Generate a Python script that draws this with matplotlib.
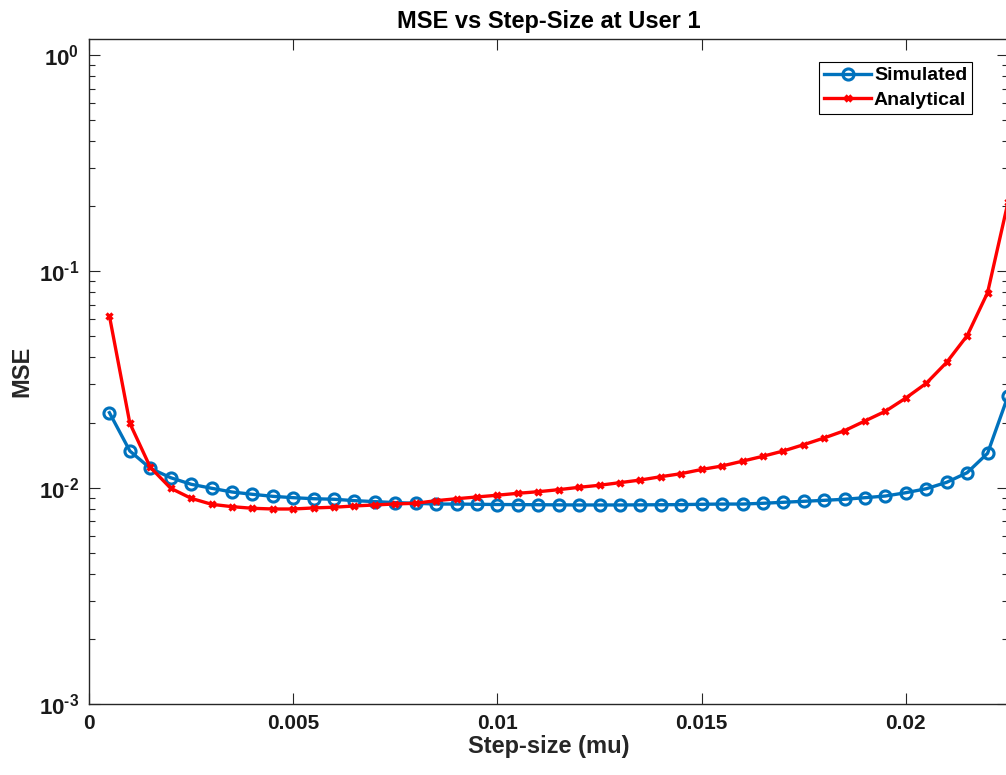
import numpy as np
import matplotlib
matplotlib.use("Agg")
import matplotlib.pyplot as plt
from matplotlib.ticker import FixedLocator, LogLocator, NullFormatter

plt.rcParams['font.family'] = ['Liberation Sans', 'DejaVu Sans']
plt.rcParams['mathtext.fontset'] = 'custom'
plt.rcParams['mathtext.rm'] = 'Liberation Sans:bold'
plt.rcParams['mathtext.bf'] = 'Liberation Sans:bold'
plt.rcParams['mathtext.it'] = 'Liberation Sans:bold'

# ---- data ----
mu = [0.0005, 0.001, 0.0015, 0.002, 0.0025, 0.003, 0.0035, 0.004, 0.0045, 0.005,
      0.0055, 0.006, 0.0065, 0.007, 0.0075, 0.008, 0.0085, 0.009, 0.0095, 0.010,
      0.0105, 0.011, 0.0115, 0.012, 0.0125, 0.013, 0.0135, 0.014, 0.0145, 0.015,
      0.0155, 0.016, 0.0165, 0.017, 0.0175, 0.018, 0.0185, 0.019, 0.0195, 0.020,
      0.0205, 0.021, 0.0215, 0.022, 0.0225]

mse_simulated = [0.02222, 0.01478, 0.01229, 0.01112, 0.01037, 0.00994, 0.00955, 0.00932, 0.00912, 0.00899,
                 0.00889, 0.00884, 0.00871, 0.00862, 0.00853, 0.00847, 0.00840, 0.00840, 0.00838, 0.00836,
                 0.00835, 0.00834, 0.00833, 0.00832, 0.00832, 0.00832, 0.00833, 0.00834, 0.00835, 0.00838,
                 0.00840, 0.00840, 0.00847, 0.00856, 0.00865, 0.00874, 0.00884, 0.00899, 0.00915, 0.00948,
                 0.00989, 0.01059, 0.01173, 0.01442, 0.02654]

mse_analytical = [0.0622, 0.01985, 0.01243, 0.00994, 0.00893, 0.00838, 0.00817, 0.00803, 0.00797, 0.00797,
                  0.00806, 0.00812, 0.00823, 0.00832, 0.00841, 0.00847, 0.00871, 0.00889, 0.00906, 0.00923,
                  0.00942, 0.00958, 0.00979, 0.01004, 0.01026, 0.01055, 0.01085, 0.01124, 0.01161, 0.01214,
                  0.01260, 0.01326, 0.01397, 0.01478, 0.01581, 0.01698, 0.01835, 0.02035, 0.02256, 0.02598,
                  0.03039, 0.03799, 0.05043, 0.07970, 0.2086]

x_ticks = [0, 0.005, 0.01, 0.015, 0.02]
x_tick_labels = ['0', '0.005', '0.01', '0.015', '0.02']
y_ticks = [1e-3, 1e-2, 1e-1, 1e0]
y_tick_labels = [r'$\mathbf{10^{\text{-}3}}$', r'$\mathbf{10^{\text{-}2}}$',
                 r'$\mathbf{10^{\text{-}1}}$', r'$\mathbf{10^{0}}$']

W, H = 1006, 775
fig = plt.figure(figsize=(W / 100, H / 100), dpi=100)
left, right, top, bottom = 89, 1008, 39, 704
ax = fig.add_axes([left / W, 1 - bottom / H, (right - left) / W, (bottom - top) / H])

blue = '#0072BD'
red = '#FF0000'
ax.plot(mu, mse_simulated, color=blue, lw=2.4, marker='o', ms=8, mfc='none', mec=blue, mew=2.2,
        label='Simulated')
ax.plot(mu, mse_analytical, color=red, lw=2.4, marker='x', ms=5, mec=red, mew=2.4,
        label='Analytical')

ax.set_yscale('log')
ax.set_xlim(0, 0.0225)
ax.set_ylim(1e-3, 1.186)

ax.xaxis.set_major_locator(FixedLocator(x_ticks))
ax.set_xticklabels(x_tick_labels)
ax.yaxis.set_major_locator(FixedLocator(y_ticks))
ax.set_yticklabels(y_tick_labels)
ax.yaxis.set_minor_locator(LogLocator(base=10, subs=np.arange(2, 10)))
ax.yaxis.set_minor_formatter(NullFormatter())

spine_c = '#262626'
for s in ax.spines.values():
    s.set_color(spine_c)
    s.set_linewidth(1.0)

ax.tick_params(axis='both', which='both', direction='in', top=True, right=True, colors=spine_c)
ax.tick_params(axis='x', which='major', length=8, width=0.8, labelsize=15, pad=7, labelcolor='#1a1a1a')
ax.tick_params(axis='y', which='major', length=8, width=0.8, labelsize=16, pad=7, labelcolor='#1a1a1a')
ax.tick_params(axis='y', which='minor', length=4, width=0.8)
for lbl in ax.get_xticklabels():
    lbl.set_fontweight('bold')

ax.set_title('MSE vs Step-Size at User 1', fontsize=17, fontweight='bold', pad=8)
ax.set_xlabel('Step-size (mu)', fontsize=17, fontweight='bold', labelpad=2, color='#262626')
ax.set_ylabel('MSE', fontsize=17, fontweight='bold', labelpad=4, color='#262626')

leg = ax.legend(loc='upper right', bbox_to_anchor=((972 - left) / (right - left), (bottom - 62) / (bottom - top)),
                prop={'weight': 'bold', 'size': 14}, frameon=True, fancybox=False,
                edgecolor='black', framealpha=1, borderpad=0.25, handlelength=2.4, handletextpad=0.15,
                labelspacing=0.35, borderaxespad=0)
leg.get_frame().set_linewidth(0.8)

fig.savefig('out.png', dpi=100)
